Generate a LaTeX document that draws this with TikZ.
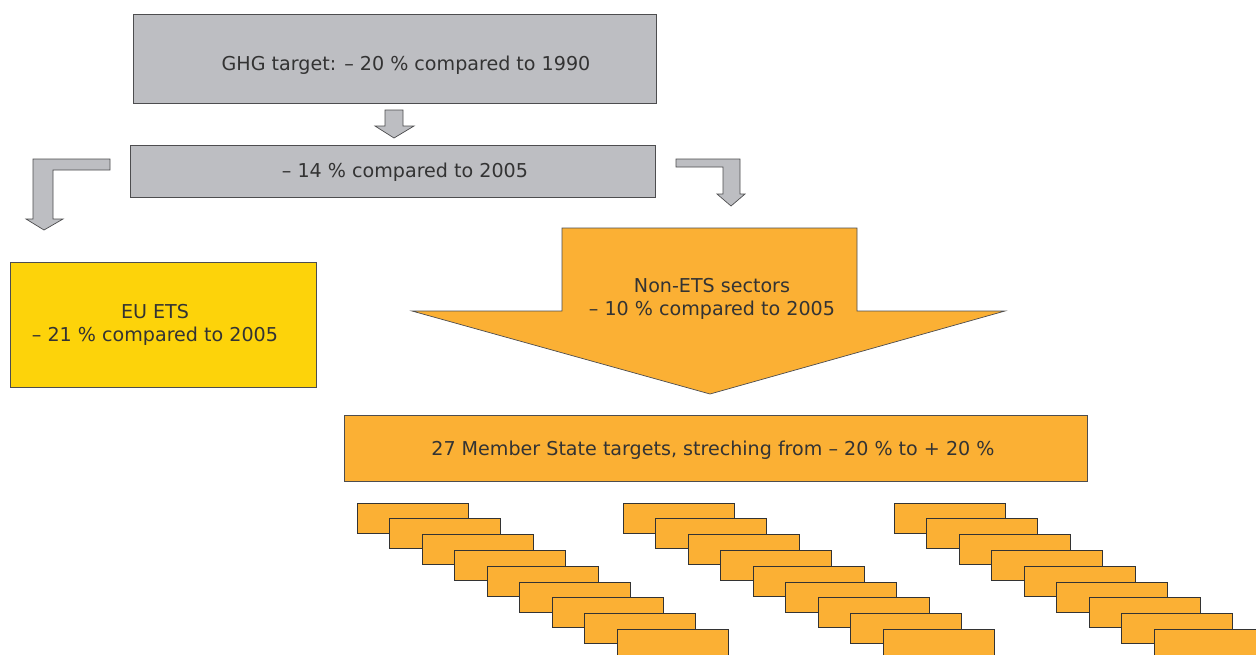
\documentclass[tikz,border=0pt]{standalone}
\usepackage{fontspec}
\setmainfont{DejaVu Sans}
\definecolor{gfill}{HTML}{BDBEC2}
\definecolor{gline}{HTML}{4D4D4F}
\definecolor{ofill}{HTML}{FBB034}
\definecolor{yfill}{HTML}{FDD30A}
\definecolor{txt}{HTML}{333333}
\begin{document}
\begin{tikzpicture}[x=1pt,y=-1pt,
  box/.style={draw=gline, line width=0.9pt},
  arrowshape/.style={draw=gline, line width=0.7pt, line join=miter},
  lbl/.style={text=txt, font=\fontsize{19.1}{23}\selectfont, align=center, inner sep=0pt},
  stackbox/.style={draw=black!80, fill=ofill, line width=1pt}]
\useasboundingbox (0,0) rectangle (1256,654);
\fill[white] (0,0) rectangle (1256,654);

% gray boxes
\path[box, fill=gfill] (133,14) rectangle (656,103);
\node[lbl] (ghg) at (406,65) {GHG target: – 20 \% compared to 1990};
\path[box, fill=gfill] (130,145) rectangle (655,197);
\node[lbl] (fourteen) at (405,172) {– 14 \% compared to 2005};

% small down arrow
\path[arrowshape, fill=gfill] (385,110) -- (403,110) -- (403,126) -- (414,126) -- (394,138) -- (375,126) -- (385,126) -- cycle;

% left bent arrow
\path[arrowshape, fill=gfill] (110,159) -- (110,170) -- (53,170) -- (53,219) -- (63,219) -- (44,230) -- (26,219) -- (33,219) -- (33,159) -- cycle;

% right bent arrow
\path[arrowshape, fill=gfill] (676,159) -- (740,159) -- (740,194) -- (745,194) -- (731,206) -- (717,194) -- (723,194) -- (723,167) -- (676,167) -- cycle;

% EU ETS
\path[box, fill=yfill] (10,262) rectangle (316,387);
\node[lbl] (ets) at (155,325) {EU ETS\\– 21 \% compared to 2005};

% Non-ETS big arrow
\path[arrowshape, fill=ofill] (562,228) -- (857,228) -- (857,311) -- (1005,311) -- (710,394) -- (412,311) -- (562,311) -- cycle;
\node[lbl] (nonets) at (712,298.5) {Non-ETS sectors\\– 10 \% compared to 2005};

% Member state box
\path[box, fill=ofill] (344,415) rectangle (1087,481);
\node[lbl] (ms) at (713,450.5) {27 Member State targets, streching from – 20 \% to + 20 \%};

% stacked boxes
\begin{scope}
\clip (0,0) rectangle (1256,654);
\foreach \gx in {357,623,894}{
  \foreach \i in {0,...,8}{
    \draw[stackbox] ({\gx+32.5*\i},{503+15.8*\i}) rectangle ++(111,30);
  }
}
\end{scope}
\end{tikzpicture}
\end{document}
